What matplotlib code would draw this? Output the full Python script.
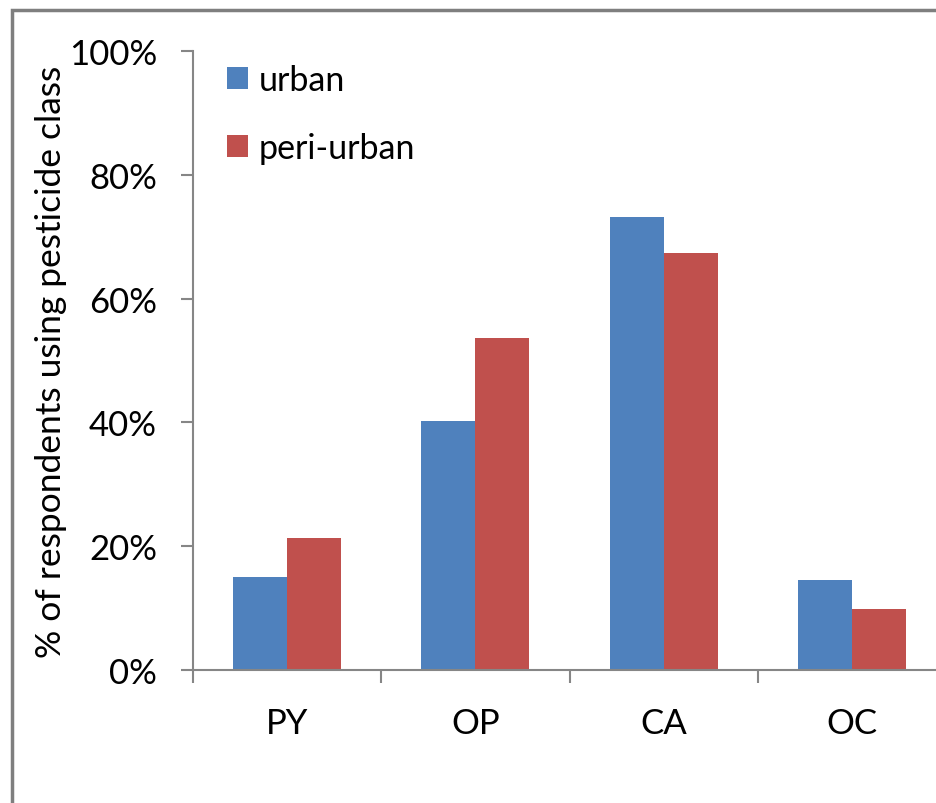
import numpy as np
import matplotlib
matplotlib.use("Agg")
import matplotlib.pyplot as plt
from matplotlib.patches import Rectangle, Patch
from matplotlib.ticker import FixedLocator, PercentFormatter

plt.rcParams['font.family'] = ['Lato', 'DejaVu Sans']

categories = ['PY', 'OP', 'CA', 'OC']
urban = [15.0, 40.2, 73.2, 14.6]
peri_urban = [21.3, 53.6, 67.4, 9.9]

blue = '#4F81BD'
red = '#C0504D'
axis_grey = '#868686'

fig = plt.figure(figsize=(9.36, 8.04), dpi=100)

# outer chart frame (cut off on the right and bottom like the original)
fig.patches.append(Rectangle((12 / 936, -0.1), 1.2, 1.1 - 11 / 804,
                             transform=fig.transFigure, fill=False,
                             edgecolor='#7f7f7f', linewidth=2.5))

ax = fig.add_axes([193 / 936, 1 - 671 / 804, 753 / 936, 619 / 804])

x = np.arange(len(categories))
w = 0.287
ax.bar(x - w / 2, urban, w, color=blue, label='urban')
ax.bar(x + w / 2, peri_urban, w, color=red, label='peri-urban')

ax.set_xlim(-0.5, 3.5)
ax.set_ylim(0, 100)
ax.set_yticks([0, 20, 40, 60, 80, 100])
ax.yaxis.set_major_formatter(PercentFormatter(decimals=0))
ax.set_xticks(x)
ax.set_xticklabels(categories)
ax.xaxis.set_minor_locator(FixedLocator([-0.5, 0.5, 1.5, 2.5, 3.5]))

for s in ['top', 'right']:
    ax.spines[s].set_visible(False)
for s in ['left', 'bottom']:
    ax.spines[s].set_color(axis_grey)
    ax.spines[s].set_linewidth(1.5)

ax.tick_params(axis='y', length=9, width=1.5, color=axis_grey, labelsize=25, pad=17)
ax.tick_params(axis='x', which='major', length=0, labelsize=25, pad=27)
ax.tick_params(axis='x', which='minor', length=9, width=1.5, color=axis_grey)

ax.set_ylabel('% of respondents using pesticide class', fontsize=25.5, labelpad=1)

handles = [Patch(facecolor=blue, label='urban'), Patch(facecolor=red, label='peri-urban')]
ax.legend(handles=handles, loc='upper left', bbox_to_anchor=(227 / 936, 1 - 65 / 804),
          bbox_transform=fig.transFigure, frameon=False, fontsize=24.5,
          borderpad=0, borderaxespad=0,
          handlelength=0.62, handleheight=0.62, handletextpad=0.3, labelspacing=1.05)

fig.savefig('out.png', dpi=100)
